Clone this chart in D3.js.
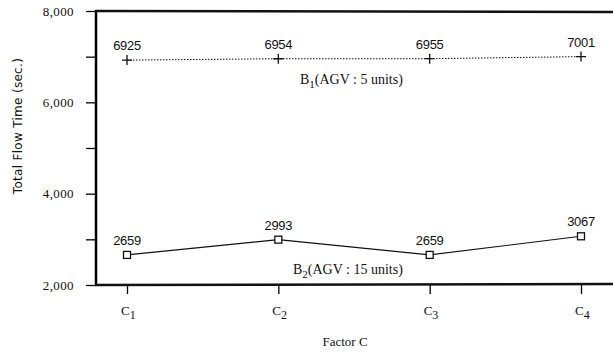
<!DOCTYPE html>
<html>
<head>
<meta charset="utf-8">
<script src="https://cdn.jsdelivr.net/npm/d3@7"></script>
<style>
  body { margin: 0; background: #fff; }
  text { fill: #111; }
</style>
</head>
<body>
<div id="chart"></div>
<script>
// data
var categories = ["C1", "C2", "C3", "C4"];
var b1Values = [6925, 6954, 6955, 7001];
var b2Values = [2659, 2993, 2659, 3067];
var b1Labels = ["6925", "6954", "6955", "7001"];
var b2Labels = ["2659", "2993", "2659", "3067"];
var yTicks = [2000, 3000, 4000, 5000, 6000, 7000, 8000];
var yTickLabels = [2000, 4000, 6000, 8000];

var width = 613, height = 358;

var svg = d3.select("#chart")
  .append("svg")
    .attr("width", width)
    .attr("height", height);

// scales
var x = d3.scalePoint()
  .domain(categories)
  .range([127, 581]);

var y = d3.scaleLinear()
  .domain([2000, 8000])
  .range([285, 11]);

var serif = "'Liberation Serif', 'Times New Roman', serif";
var sans = "'Liberation Sans', Arial, sans-serif";

// Y axis
var yAxis = svg.append("g")
  .attr("transform", "translate(96,0)")
  .call(d3.axisLeft(y)
    .tickValues(yTicks)
    .tickSize(10)
    .tickFormat(function(d) { return yTickLabels.indexOf(d) >= 0 ? d3.format(",")(d) : ""; }));
yAxis.select(".domain").attr("stroke-width", 2.5).attr("d", "M0,10V286");
yAxis.selectAll(".tick line").attr("stroke-width", 1.3);
yAxis.selectAll(".tick text")
  .attr("x", -22)
  .style("font-family", serif)
  .style("font-size", "13px")
  .style("letter-spacing", "0.4px")
  .style("fill", "#111");

// X axis
var xAxis = svg.append("g")
  .attr("transform", "translate(0,285)")
  .call(d3.axisBottom(x).tickSize(9).tickFormat(""));
xAxis.select(".domain").remove();
xAxis.selectAll(".tick line").attr("stroke-width", 1.3);

// frame lines (top and bottom run off the right edge)
svg.append("line")
  .attr("x1", 95).attr("x2", width)
  .attr("y1", y(8000)).attr("y2", y(8000) + 1)
  .attr("stroke", "#111").attr("stroke-width", 2.5);
svg.append("line")
  .attr("x1", 95).attr("x2", width)
  .attr("y1", y(2000)).attr("y2", y(2000) - 1)
  .attr("stroke", "#111").attr("stroke-width", 2.5);

// category labels with subscripts
var catText = svg.append("g").selectAll("text")
  .data(categories)
  .enter()
  .append("text")
    .attr("x", function(d) { return x(d) - 6; })
    .attr("y", 315)
    .style("font-family", serif)
    .style("font-size", "13px");
catText.append("tspan").text(function(d) { return d.charAt(0); });
catText.append("tspan")
  .attr("dy", 4)
  .style("font-size", "12px")
  .text(function(d) { return d.slice(1); });

// axis titles
svg.append("text")
  .attr("x", 345).attr("y", 346)
  .attr("text-anchor", "middle")
  .style("font-family", serif)
  .style("font-size", "13px")
  .text("Factor C");

svg.append("text")
  .attr("transform", "translate(22,126) rotate(-90)")
  .attr("text-anchor", "middle")
  .style("font-family", "'DejaVu Sans', sans-serif")
  .style("font-size", "12px")
  .style("letter-spacing", "0.3px")
  .text("Total Flow Time (sec.)");

// B1 line (dotted) with + markers
var line = d3.line()
  .x(function(d, i) { return x(categories[i]); })
  .y(function(d) { return y(d); });

svg.append("path")
  .datum(b1Values)
  .attr("fill", "none")
  .attr("stroke", "#111")
  .attr("stroke-width", 1)
  .attr("stroke-dasharray", "1.5,1.5")
  .attr("d", line);

svg.append("g").selectAll("path")
  .data(b1Values)
  .enter()
  .append("path")
    .attr("d", function(d, i) {
      var cx = x(categories[i]), cy = y(d);
      return "M" + (cx - 5) + "," + cy + "H" + (cx + 5) + "M" + cx + "," + (cy - 5) + "V" + (cy + 5);
    })
    .attr("stroke", "#111")
    .attr("stroke-width", 1.3);

svg.append("g").selectAll("text")
  .data(b1Values)
  .enter()
  .append("text")
    .attr("x", function(d, i) { return x(categories[i]); })
    .attr("y", function(d) { return y(d) - 10; })
    .attr("text-anchor", "middle")
    .style("font-family", sans)
    .style("font-size", "13px")
    .style("letter-spacing", "-0.3px")
    .text(function(d, i) { return b1Labels[i]; });

// B2 line (solid) with square markers
svg.append("path")
  .datum(b2Values)
  .attr("fill", "none")
  .attr("stroke", "#111")
  .attr("stroke-width", 1.1)
  .attr("d", line);

svg.append("g").selectAll("rect")
  .data(b2Values)
  .enter()
  .append("rect")
    .attr("x", function(d, i) { return x(categories[i]) - 3.5; })
    .attr("y", function(d) { return y(d) - 3.5; })
    .attr("width", 7)
    .attr("height", 7)
    .attr("fill", "#fff")
    .attr("stroke", "#111")
    .attr("stroke-width", 1.3);

svg.append("g").selectAll("text")
  .data(b2Values)
  .enter()
  .append("text")
    .attr("x", function(d, i) { return x(categories[i]); })
    .attr("y", function(d) { return y(d) - 10; })
    .attr("text-anchor", "middle")
    .style("font-family", sans)
    .style("font-size", "13px")
    .style("letter-spacing", "-0.3px")
    .text(function(d, i) { return b2Labels[i]; });

// series labels
var s1 = svg.append("text")
  .attr("x", 300).attr("y", 84)
  .style("font-family", serif)
  .style("font-size", "14px");
s1.append("tspan").text("B");
s1.append("tspan").attr("dy", 4).style("font-size", "11px").text("1");
s1.append("tspan").attr("dy", -4).text("(AGV : 5 units)");

var s2 = svg.append("text")
  .attr("x", 293).attr("y", 274)
  .style("font-family", serif)
  .style("font-size", "14px");
s2.append("tspan").text("B");
s2.append("tspan").attr("dy", 4).style("font-size", "11px").text("2");
s2.append("tspan").attr("dy", -4).text("(AGV : 15 units)");
</script>
</body>
</html>
